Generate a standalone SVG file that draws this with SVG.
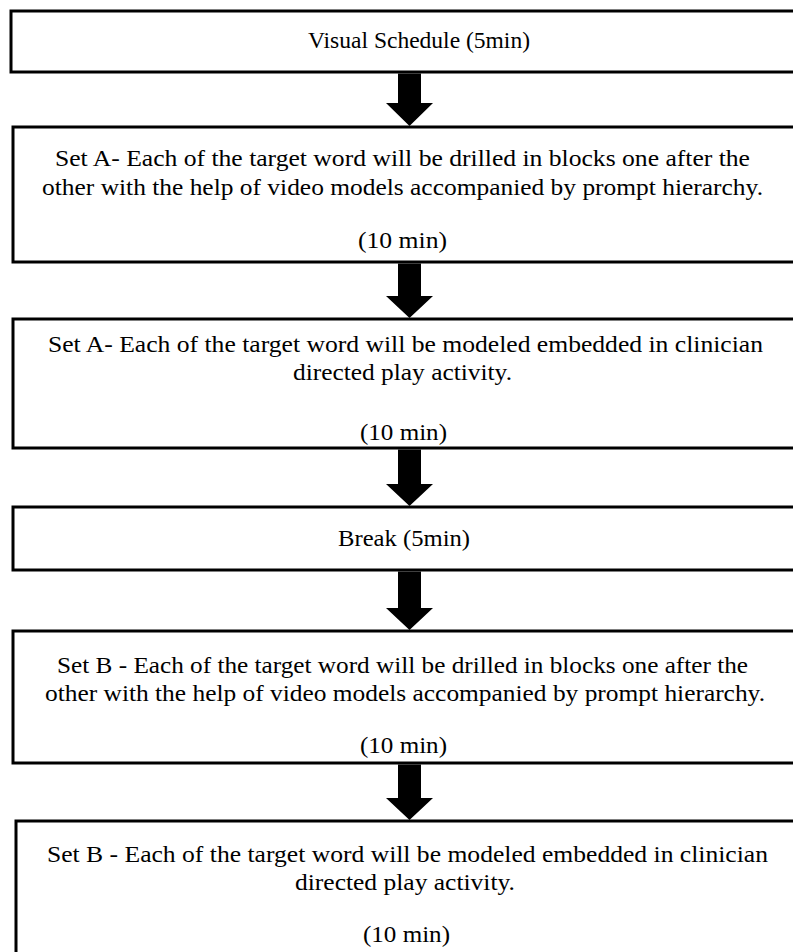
<svg xmlns="http://www.w3.org/2000/svg" width="793" height="952" viewBox="0 0 793 952">
<style>
.box{fill:#fff;stroke:#000;stroke-width:3}
.t{font-family:"Liberation Serif","Times New Roman",serif;font-size:24px;fill:#000;text-anchor:middle}
.arr{fill:#000}
</style>
<rect width="793" height="952" fill="#fff"/>
<g id="n1"><rect class="box" x="11" y="11" width="800" height="61"/><text class="t" x="419" y="48" textLength="222" lengthAdjust="spacingAndGlyphs">Visual Schedule (5min)</text></g>
<g id="n2"><rect class="box" x="13" y="127" width="800" height="135"/>
<text class="t" x="402.5" y="166" textLength="695" lengthAdjust="spacingAndGlyphs">Set A- Each of the target word will be drilled in blocks one after the</text>
<text class="t" x="402.5" y="195" textLength="721" lengthAdjust="spacingAndGlyphs">other with the help of video models accompanied by prompt hierarchy.</text>
<text class="t" x="402.5" y="248" textLength="89" lengthAdjust="spacingAndGlyphs">(10 min)</text></g>
<g id="n3"><rect class="box" x="13" y="319" width="800" height="129"/>
<text class="t" x="405.5" y="352" textLength="715" lengthAdjust="spacingAndGlyphs">Set A- Each of the target word will be modeled embedded in clinician</text>
<text class="t" x="402.5" y="380" textLength="219" lengthAdjust="spacingAndGlyphs">directed play activity.</text>
<text class="t" x="403.5" y="440" textLength="87" lengthAdjust="spacingAndGlyphs">(10 min)</text></g>
<g id="n4"><rect class="box" x="13" y="507" width="800" height="63"/>
<text class="t" x="404" y="546" textLength="132" lengthAdjust="spacingAndGlyphs">Break (5min)</text></g>
<g id="n5"><rect class="box" x="13" y="631" width="800" height="132"/>
<text class="t" x="402.5" y="673" textLength="691" lengthAdjust="spacingAndGlyphs">Set B - Each of the target word will be drilled in blocks one after the</text>
<text class="t" x="405" y="701" textLength="720" lengthAdjust="spacingAndGlyphs">other with the help of video models accompanied by prompt hierarchy.</text>
<text class="t" x="403.5" y="753" textLength="87" lengthAdjust="spacingAndGlyphs">(10 min)</text></g>
<g id="n6"><rect class="box" x="16" y="821" width="800" height="160"/>
<text class="t" x="407.5" y="862" textLength="721" lengthAdjust="spacingAndGlyphs">Set B - Each of the target word will be modeled embedded in clinician</text>
<text class="t" x="405" y="890" textLength="220" lengthAdjust="spacingAndGlyphs">directed play activity.</text>
<text class="t" x="406.5" y="942" textLength="87" lengthAdjust="spacingAndGlyphs">(10 min)</text></g>
<g id="connectors">
<path class="arr" d="M398 73.5H421V103H433L409.5 126L386 103H398Z"/>
<path class="arr" d="M398 263.5H421V296H433L409.5 318L386 296H398Z"/>
<path class="arr" d="M398 449.5H421V484H433L409.5 506L386 484H398Z"/>
<path class="arr" d="M398 571.5H421V608H433L409.5 630L386 608H398Z"/>
<path class="arr" d="M398 764.5H421V798H433L409.5 820L386 798H398Z"/>
</g>
</svg>
